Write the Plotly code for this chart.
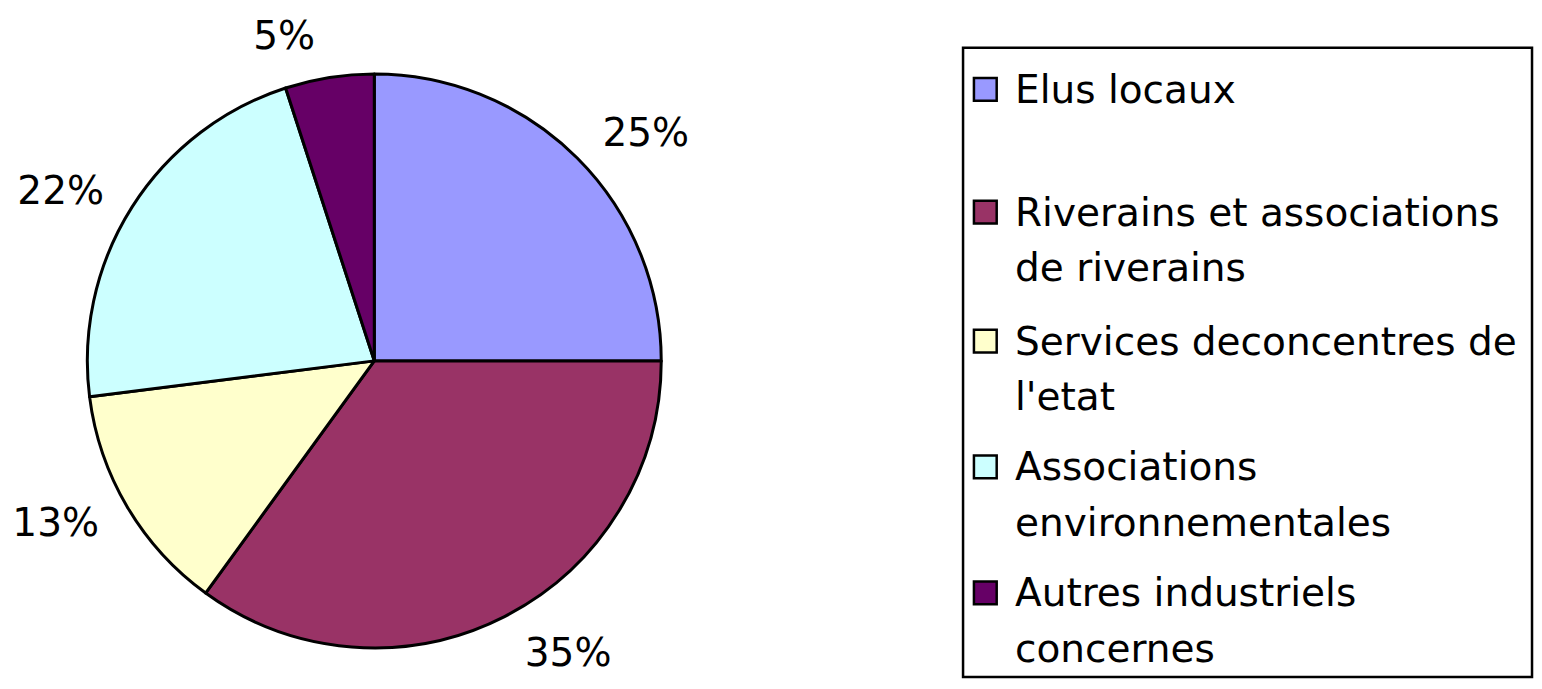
import plotly.graph_objects as go

# data
categories = [
    "Elus locaux",
    "Riverains et associations<br>de riverains",
    "Services deconcentres de<br>l'etat",
    "Associations<br>environnementales",
    "Autres industriels<br>concernes",
]
shares = [25, 35, 13, 22, 5]
colors = ["#9999FF", "#993366", "#FFFFCC", "#CCFFFF", "#660066"]

# the page body keeps the browser's 8px margin, so the figure is 16px smaller
# and every pixel position below is given in window coordinates
PAD = 8
W, H = 1542 - 2 * PAD, 689 - 2 * PAD
FONT = "DejaVu Sans"


def px_x(x):
    return (x - PAD) / W


def px_y(y):
    return 1 - (y - PAD) / H


def disc(cx, cy, r):
    return dict(x=[px_x(cx - r), px_x(cx + r)], y=[px_y(cy + r), px_y(cy - r)])


names = [c.replace("<br>", " ") for c in categories]

fig = go.Figure()
# the pie itself
fig.add_trace(go.Pie(
    labels=names,
    values=shares,
    sort=False,
    direction="clockwise",
    rotation=0,
    marker=dict(colors=colors, line=dict(color="black", width=3)),
    textinfo="none",
    domain=disc(362, 358, 290),
    showlegend=False,
    hoverinfo="label+percent",
))
# invisible twin, a bit larger, only used to push the % labels further out
fig.add_trace(go.Pie(
    labels=names,
    values=shares,
    sort=False,
    direction="clockwise",
    rotation=0,
    marker=dict(colors=["rgba(0,0,0,0)"] * len(shares), line=dict(width=0)),
    texttemplate="%{percent:.0%}",
    textposition="outside",
    outsidetextfont=dict(family=FONT, size=39, color="black"),
    domain=disc(362, 358, 310),
    showlegend=False,
    hoverinfo="skip",
))

#---
# hand-drawn legend box (mimics the spreadsheet legend)
#---
shapes = [dict(
    type="rect", xref="paper", yref="paper",
    x0=px_x(957), x1=px_x(1532), y0=px_y(677), y1=px_y(42),
    line=dict(color="black", width=2.5), fillcolor="rgba(0,0,0,0)",
)]
annotations = []
item_top = 84
item_step = 127
line_step = 56
for i, (name, col) in enumerate(zip(categories, colors)):
    yc = item_top + i * item_step
    if i == 1:
        yc -= 3
    shapes.append(dict(
        type="rect", xref="paper", yref="paper",
        x0=px_x(968), x1=px_x(991), y0=px_y(yc + 11.5), y1=px_y(yc - 11.5),
        line=dict(color="black", width=2.5), fillcolor=col,
    ))
    for j, line in enumerate(name.split("<br>")):
        annotations.append(dict(
            text=line, xref="paper", yref="paper",
            x=px_x(1007), y=px_y(yc + j * line_step),
            xanchor="left", yanchor="middle", showarrow=False,
            font=dict(family=FONT, size=39, color="black"),
        ))

fig.update_layout(
    width=W,
    height=H,
    margin=dict(l=0, r=0, t=0, b=0),
    paper_bgcolor="white",
    plot_bgcolor="white",
    shapes=shapes,
    annotations=annotations,
)

fig.write_html("out.html")
